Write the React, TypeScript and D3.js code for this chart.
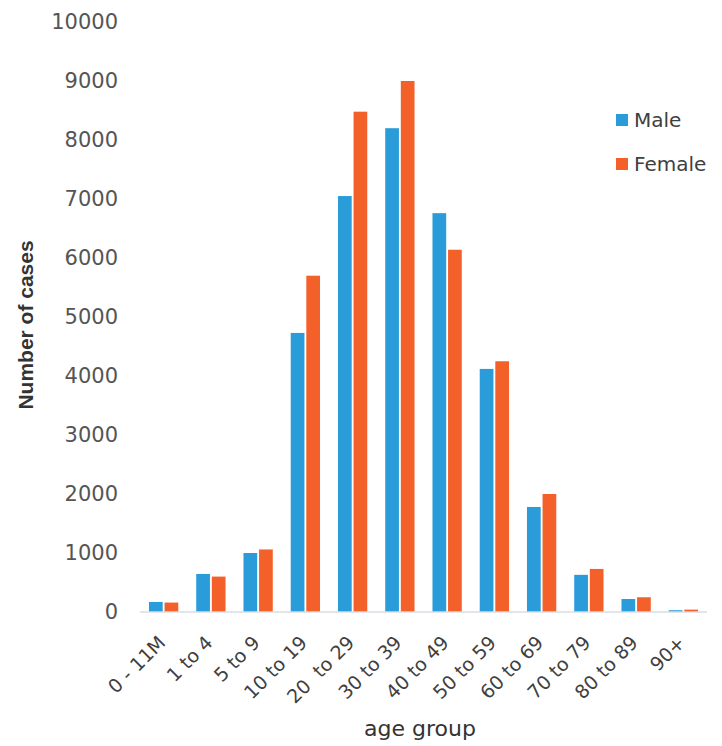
import React from 'react';
import * as d3 from 'd3';

const ageGroups = ['0 - 11M', '1 to 4', '5 to 9', '10 to 19', '20  to 29', '30 to 39', '40 to 49', '50 to 59', '60 to 69', '70 to 79', '80 to 89', '90+'];
const maleCases = [170, 645, 1000, 4730, 7050, 8200, 6760, 4120, 1780, 630, 220, 30];
const femaleCases = [160, 600, 1060, 5700, 8480, 9000, 6140, 4250, 2000, 730, 250, 40];
const yTicks = [0, 1000, 2000, 3000, 4000, 5000, 6000, 7000, 8000, 9000, 10000];
const seriesNames = ['Male', 'Female'];
const seriesColors = ['#2a9cd9', '#f4602a'];

const width = 722;
const height = 746;
const margin = { top: 22, right: 15, bottom: 134, left: 140 };
const font = '"DejaVu Sans", Verdana, sans-serif';
const boldFont = '"Liberation Sans", Arial, sans-serif';

const App: React.FC = () => {
  const x = d3.scaleBand<string>()
    .domain(ageGroups)
    .range([margin.left, width - margin.right])
    .paddingInner(0.38)
    .paddingOuter(0.19);

  const x1 = d3.scaleBand<string>()
    .domain(seriesNames)
    .range([0, x.bandwidth()])
    .paddingInner(0.12);

  const y = d3.scaleLinear()
    .domain([0, 10000])
    .range([height - margin.bottom, margin.top]);

  const series = [maleCases, femaleCases];
  const color = d3.scaleOrdinal<string, string>().domain(seriesNames).range(seriesColors);

  return (
    <svg width={width} height={height} style={{ position: 'absolute', left: 0, top: 0, background: '#fff' }}>
      {/* y tick labels */}
      <g fontFamily={font} fontSize={21} fill="#555">
        {yTicks.map(t => (
          <text key={t} x={118} y={y(t)} textAnchor="end" dominantBaseline="central">{t}</text>
        ))}
      </g>

      {/* bars */}
      {series.map((vals, si) => (
        <g key={seriesNames[si]} fill={color(seriesNames[si])}>
          {vals.map((v, i) => (
            <rect
              key={ageGroups[i]}
              x={(x(ageGroups[i]) || 0) + (x1(seriesNames[si]) || 0)}
              y={y(v)}
              width={x1.bandwidth()}
              height={y(0) - y(v)}
            />
          ))}
        </g>
      ))}

      {/* baseline */}
      <line x1={margin.left} x2={width - margin.right} y1={y(0)} y2={y(0)} stroke="#d9dde3" strokeWidth={1.5} />

      {/* x tick labels */}
      <g fontFamily={font} fontSize={19} fill="#404040">
        {ageGroups.map(g => {
          const cx = (x(g) || 0) + x.bandwidth() / 2 - 2;
          const cy = y(0) + 27;
          return (
            <text key={g} transform={`translate(${cx},${cy}) rotate(-45)`} textAnchor="end" dominantBaseline="central" style={{ whiteSpace: 'pre' }}>{g}</text>
          );
        })}
      </g>

      {/* axis titles */}
      <text x={420} y={736} textAnchor="middle" fontFamily={font} fontSize={22} fill="#333">age group</text>
      <text transform={`translate(25,325) rotate(-90)`} textAnchor="middle" dominantBaseline="central" fontFamily={boldFont} fontSize={21} fontWeight="bold" fill="#333">Number of cases</text>

      {/* legend */}
      <g fontFamily={font} fontSize={20} fill="#404040">
        {seriesNames.map((s, i) => (
          <g key={s} transform={`translate(616,${120 + i * 44})`}>
            <rect x={0} y={-6} width={12} height={12} fill={color(s)} />
            <text x={18} y={0} dominantBaseline="central">{s}</text>
          </g>
        ))}
      </g>
    </svg>
  );
};

export default App;
